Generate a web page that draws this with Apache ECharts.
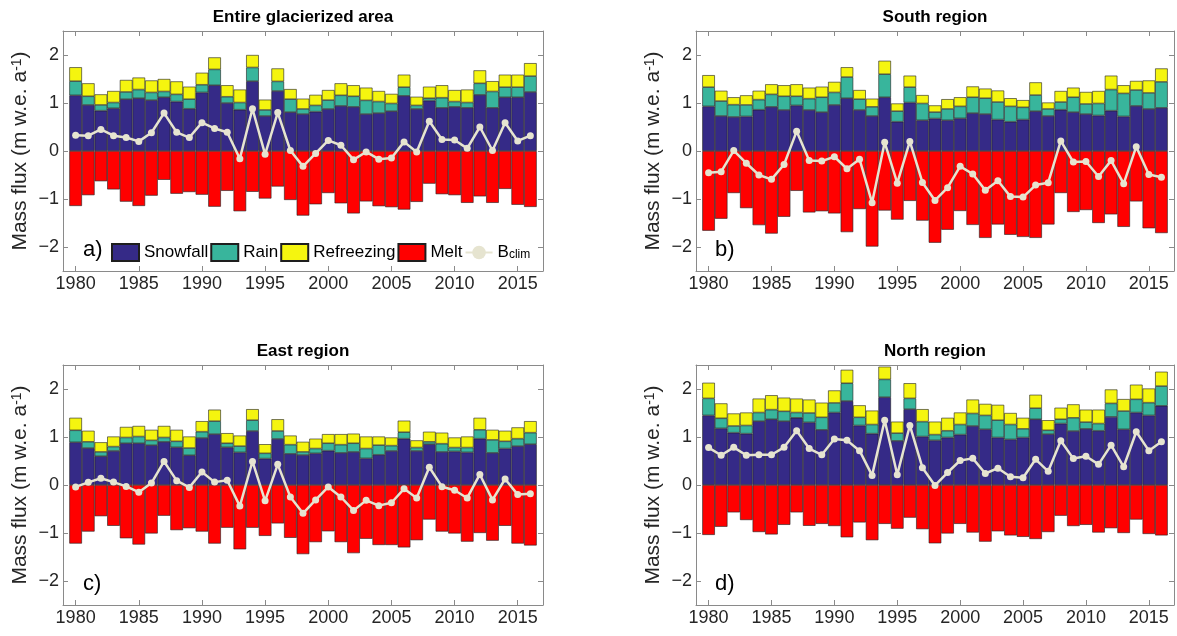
<!DOCTYPE html>
<html><head><meta charset="utf-8">
<script src="https://cdn.jsdelivr.net/npm/echarts@6/dist/echarts.min.js"></script>
<style>html,body{margin:0;padding:0;background:#fff}#c{width:1177px;height:636px}</style>
</head><body><div id="c"></div>
<script>
const years = [1980,1981,1982,1983,1984,1985,1986,1987,1988,1989,1990,1991,1992,1993,1994,1995,1996,1997,1998,1999,2000,2001,2002,2003,2004,2005,2006,2007,2008,2009,2010,2011,2012,2013,2014,2015,2016];
const xTicks = [1980,1985,1990,1995,2000,2005,2010,2015];
const yTicks = [-2,-1,0,1,2];
const panelTitles = ['Entire glacierized area','South region','East region','North region'];
const panelLabels = ['a)','b)','c)','d)'];
const seriesNames = ['Snowfall','Rain','Refreezing','Melt','Bclim'];

// a) Entire glacierized area
const aSnow = [1.16,0.96,0.84,0.89,1.08,1.10,1.06,1.12,1.03,0.88,1.22,1.37,1.00,0.86,1.455,0.73,1.25,0.81,0.77,0.82,0.876,0.94,0.92,0.77,0.79,0.83,1.15,0.876,1.05,0.90,0.92,0.90,1.17,0.90,1.12,1.12,1.23];
const aRain = [0.295,0.18,0.12,0.12,0.15,0.18,0.16,0.12,0.15,0.20,0.16,0.33,0.13,0.15,0.285,0.125,0.20,0.27,0.106,0.13,0.184,0.22,0.22,0.285,0.24,0.16,0.18,0.074,0.05,0.21,0.11,0.11,0.24,0.34,0.21,0.21,0.33];
const aRefr = [0.29,0.27,0.22,0.24,0.25,0.25,0.25,0.26,0.27,0.26,0.25,0.25,0.24,0.27,0.26,0.215,0.27,0.21,0.214,0.22,0.21,0.25,0.23,0.265,0.22,0.20,0.26,0.18,0.24,0.26,0.24,0.27,0.27,0.215,0.26,0.26,0.27];
const aMelt = [-1.145,-0.92,-0.63,-0.80,-1.055,-1.145,-0.93,-0.60,-0.89,-0.855,-0.91,-1.16,-0.83,-1.255,-0.85,-0.99,-0.74,-1.02,-1.345,-1.11,-0.876,-1.09,-1.30,-1.05,-1.15,-1.17,-1.22,-1.06,-0.68,-0.90,-0.92,-1.08,-0.945,-1.08,-0.79,-1.12,-1.165];
const aBclim = [0.33,0.32,0.45,0.32,0.28,0.20,0.38,0.79,0.39,0.28,0.59,0.47,0.39,-0.16,0.88,-0.07,0.80,0.01,-0.32,-0.05,0.22,0.12,-0.18,-0.02,-0.17,-0.145,0.19,-0.02,0.62,0.24,0.23,0.055,0.50,0.01,0.59,0.21,0.32];

// b) South region
const bSnow = [0.93,0.73,0.71,0.72,0.86,0.92,0.855,0.95,0.855,0.81,0.96,1.10,0.855,0.73,1.12,0.61,1.01,0.64,0.676,0.64,0.68,0.79,0.77,0.655,0.61,0.655,0.83,0.73,0.86,0.81,0.77,0.74,0.84,0.72,0.94,0.876,0.90];
const bRain = [0.40,0.31,0.255,0.24,0.21,0.26,0.285,0.19,0.235,0.31,0.26,0.44,0.225,0.19,0.48,0.22,0.32,0.35,0.134,0.236,0.25,0.33,0.33,0.365,0.32,0.255,0.335,0.146,0.16,0.31,0.21,0.25,0.44,0.48,0.33,0.334,0.54];
const bRefr = [0.25,0.215,0.155,0.20,0.185,0.21,0.23,0.25,0.23,0.22,0.22,0.205,0.19,0.17,0.28,0.16,0.24,0.175,0.14,0.204,0.19,0.225,0.20,0.24,0.17,0.15,0.265,0.134,0.23,0.20,0.25,0.26,0.29,0.17,0.19,0.26,0.28];
const bMelt = [-1.66,-1.41,-0.876,-1.19,-1.545,-1.72,-1.37,-0.83,-1.28,-1.255,-1.30,-1.69,-1.21,-1.99,-1.24,-1.43,-1.04,-1.45,-1.91,-1.64,-1.25,-1.54,-1.81,-1.53,-1.745,-1.79,-1.81,-1.53,-0.876,-1.27,-1.23,-1.50,-1.32,-1.58,-1.05,-1.61,-1.71];
const bBclim = [-0.455,-0.43,0.01,-0.255,-0.50,-0.59,-0.28,0.41,-0.20,-0.21,-0.12,-0.37,-0.17,-1.08,0.18,-0.67,0.20,-0.655,-1.03,-0.765,-0.32,-0.48,-0.82,-0.62,-0.95,-0.96,-0.71,-0.66,0.21,-0.23,-0.22,-0.53,-0.20,-0.68,0.09,-0.49,-0.545];

// c) East region
const cSnow = [0.89,0.77,0.60,0.71,0.87,0.87,0.83,0.90,0.785,0.62,0.98,1.06,0.785,0.68,1.125,0.55,0.96,0.65,0.625,0.66,0.715,0.67,0.69,0.555,0.63,0.71,0.965,0.71,0.85,0.69,0.70,0.68,0.965,0.67,0.76,0.81,0.85];
const cRain = [0.25,0.13,0.09,0.09,0.12,0.14,0.10,0.09,0.125,0.15,0.13,0.27,0.085,0.13,0.225,0.11,0.165,0.19,0.065,0.10,0.155,0.17,0.18,0.205,0.20,0.11,0.135,0.07,0.05,0.17,0.08,0.10,0.185,0.27,0.15,0.155,0.24];
const cRefr = [0.26,0.23,0.20,0.21,0.22,0.22,0.22,0.24,0.24,0.24,0.22,0.24,0.21,0.22,0.23,0.19,0.245,0.19,0.21,0.205,0.19,0.22,0.20,0.25,0.18,0.17,0.24,0.15,0.21,0.23,0.21,0.23,0.25,0.21,0.22,0.235,0.24];
const cMelt = [-1.22,-0.97,-0.65,-0.85,-1.11,-1.24,-1.01,-0.64,-0.94,-0.90,-0.97,-1.22,-0.89,-1.34,-0.89,-1.06,-0.80,-1.10,-1.44,-1.19,-0.965,-1.19,-1.42,-1.12,-1.25,-1.25,-1.30,-1.15,-0.72,-0.97,-1.01,-1.18,-1.00,-1.16,-0.85,-1.22,-1.26];
const cBclim = [-0.04,0.055,0.14,0.06,-0.03,-0.15,0.04,0.49,0.09,-0.05,0.27,0.06,0.10,-0.44,0.49,-0.33,0.43,-0.25,-0.59,-0.31,-0.04,-0.25,-0.53,-0.32,-0.43,-0.37,-0.08,-0.27,0.37,-0.035,-0.11,-0.27,0.22,-0.31,0.125,-0.20,-0.18];

// d) North region
const dSnow = [1.45,1.18,1.09,1.07,1.33,1.37,1.33,1.40,1.305,1.15,1.51,1.75,1.24,1.07,1.83,0.92,1.58,1.01,0.93,0.99,1.05,1.23,1.16,0.99,0.95,0.99,1.37,1.06,1.28,1.125,1.17,1.13,1.42,1.16,1.51,1.45,1.65];
const dRain = [0.355,0.21,0.14,0.17,0.18,0.20,0.205,0.11,0.195,0.26,0.20,0.37,0.17,0.19,0.37,0.16,0.225,0.31,0.12,0.14,0.21,0.26,0.29,0.36,0.31,0.18,0.23,0.08,0.09,0.275,0.14,0.15,0.28,0.38,0.275,0.265,0.41];
const dRefr = [0.325,0.31,0.26,0.27,0.29,0.30,0.285,0.29,0.28,0.305,0.26,0.28,0.25,0.29,0.265,0.24,0.315,0.26,0.27,0.27,0.25,0.29,0.24,0.32,0.24,0.23,0.28,0.21,0.24,0.28,0.26,0.29,0.29,0.25,0.305,0.295,0.30];
const dMelt = [-1.04,-0.87,-0.57,-0.73,-0.98,-1.03,-0.83,-0.57,-0.85,-0.81,-0.855,-1.09,-0.78,-1.15,-0.81,-0.91,-0.68,-0.92,-1.215,-1.01,-0.81,-0.99,-1.18,-0.965,-1.05,-1.08,-1.125,-0.98,-0.64,-0.855,-0.83,-0.99,-0.90,-1.00,-0.72,-1.02,-1.05];
const dBclim = [0.78,0.62,0.785,0.62,0.63,0.63,0.785,1.13,0.76,0.63,0.96,0.93,0.715,0.20,1.35,0.215,1.24,0.36,-0.01,0.26,0.51,0.555,0.24,0.35,0.17,0.15,0.535,0.285,0.92,0.55,0.60,0.43,0.83,0.38,1.11,0.715,0.90];

const panels = [
  [aSnow,aRain,aRefr,aMelt,aBclim],
  [bSnow,bRain,bRefr,bMelt,bBclim],
  [cSnow,cRain,cRefr,cMelt,cBclim],
  [dSnow,dRain,dRefr,dMelt,dBclim]
];

const FONT = '"Liberation Sans", Arial, Helvetica, sans-serif';
const colors = ['#352a87','#38b59c','#f5f50f','#ff0000','#e6e4d0'];
const axisGray = '#8a8a8a';
const textDark = '#262626';
// axis runs from one year before the first bar to one year after the last
const axisCats = [years[0] - 1].concat(years, [years[years.length - 1] + 1]).map(String);
const pad = arr => [null].concat(arr, [null]);
const isTick = (idx, val) => xTicks.indexOf(Number(val)) >= 0;

const grids = [
  {left:63, top:31, width:480, height:240},
  {left:696, top:31, width:478, height:240},
  {left:63, top:365, width:480, height:240},
  {left:696, top:365, width:478, height:240}
];

const xAxes = [], yAxes = [], series = [], graphics = [];
grids.forEach((g, i) => {
  const common = {
    gridIndex: i, type: 'category', data: axisCats, boundaryGap: false,
    splitLine: {show: false},
    axisLine: {show: true, onZero: false, lineStyle: {color: axisGray, width: 1}},
    axisTick: {show: true, inside: true, length: 5, interval: isTick, alignWithLabel: true, lineStyle: {color: axisGray}}
  };
  xAxes.push(Object.assign({}, common, {
    position: 'bottom',
    axisLabel: {show: true, interval: isTick, fontSize: 18, color: textDark, fontFamily: FONT, margin: 4}
  }));
  xAxes.push(Object.assign({}, common, {position: 'top', axisLabel: {show: false, interval: isTick}}));
  const ycommon = {
    gridIndex: i, type: 'value', min: -2.5, max: 2.5,
    splitLine: {show: false},
    axisLine: {show: true, onZero: false, lineStyle: {color: axisGray, width: 1}},
    axisTick: {show: true, inside: true, length: 5, customValues: yTicks, lineStyle: {color: axisGray}}
  };
  yAxes.push(Object.assign({}, ycommon, {
    position: 'left',
    axisLabel: {show: true, customValues: yTicks, fontSize: 18, color: textDark, fontFamily: FONT, margin: 4,
      formatter: v => String(v).replace('-', '\u2212')},
    name: '{n|Mass flux (m w.e. a}{s|-1}{n|)}',
    nameLocation: 'middle', nameGap: 32, nameRotate: 90,
    nameTextStyle: {
      fontFamily: FONT, color: textDark,
      rich: {
        n: {fontSize: 21, lineHeight: 21, fontFamily: FONT, color: textDark, verticalAlign: 'bottom'},
        s: {fontSize: 14, lineHeight: 14, fontFamily: FONT, color: textDark, verticalAlign: 'top', padding: [0,0,9,0]}
      }
    }
  }));
  yAxes.push(Object.assign({}, ycommon, {position: 'right', axisLabel: {show: false}}));

  const bw = g.width / (axisCats.length - 1);
  const arrs = panels[i];
  for (let k = 0; k < 4; k++) {
    series.push({
      type: 'bar', name: seriesNames[k], xAxisIndex: 2*i, yAxisIndex: 2*i,
      stack: 'p' + i, barWidth: bw,
      itemStyle: {color: colors[k], borderColor: '#1e1e1e', borderWidth: 0.6},
      emphasis: {disabled: true},
      data: pad(arrs[k])
    });
  }
  series.push({
    type: 'line', name: seriesNames[4], xAxisIndex: 2*i, yAxisIndex: 2*i,
    symbol: 'circle', symbolSize: 7, z: 5,
    lineStyle: {color: colors[4], width: 2.5},
    itemStyle: {color: colors[4]},
    emphasis: {disabled: true},
    data: pad(arrs[4])
  });

  graphics.push({
    type: 'text', x: g.left + g.width/2, y: g.top - 14, z: 10,
    style: {text: panelTitles[i], font: 'bold 17px ' + FONT, fill: '#000', textAlign: 'center', textVerticalAlign: 'middle'}
  });
  graphics.push({
    type: 'text', x: g.left + (i % 2 === 0 ? 20 : 19), y: g.top + 219, z: 10,
    style: {text: panelLabels[i], font: '22px ' + FONT, fill: '#000', textAlign: 'left', textVerticalAlign: 'middle'}
  });
});

const chart = echarts.init(document.getElementById('c'), null, {renderer: 'canvas'});
chart.setOption({
  animation: false,
  backgroundColor: '#fff',
  grid: grids.map(g => Object.assign({containLabel: false}, g)),
  xAxis: xAxes,
  yAxis: yAxes,
  legend: {
    data: [
      {name: 'Snowfall', icon: 'rect'},
      {name: 'Rain', icon: 'rect'},
      {name: 'Refreezing', icon: 'rect'},
      {name: 'Melt', icon: 'rect'},
      {name: 'Bclim'}
    ],
    left: 111, top: 239, padding: 0, itemGap: 2,
    itemWidth: 27, itemHeight: 17,
    formatter: n => n === 'Bclim' ? '{b|B}{s|clim}' : '{t|' + n + '}',
    textStyle: {
      fontFamily: FONT, fontSize: 17, color: '#000',
      rich: {
        t: {fontSize: 17, fontFamily: FONT, color: '#000'},
        b: {fontSize: 17, lineHeight: 17, fontFamily: FONT, color: '#000', verticalAlign: 'top'},
        s: {fontSize: 12, lineHeight: 12, fontFamily: FONT, color: '#000', verticalAlign: 'bottom', padding: [10,0,0,0]}
      }
    }
  },
  graphic: graphics,
  series: series
});
</script></body></html>
